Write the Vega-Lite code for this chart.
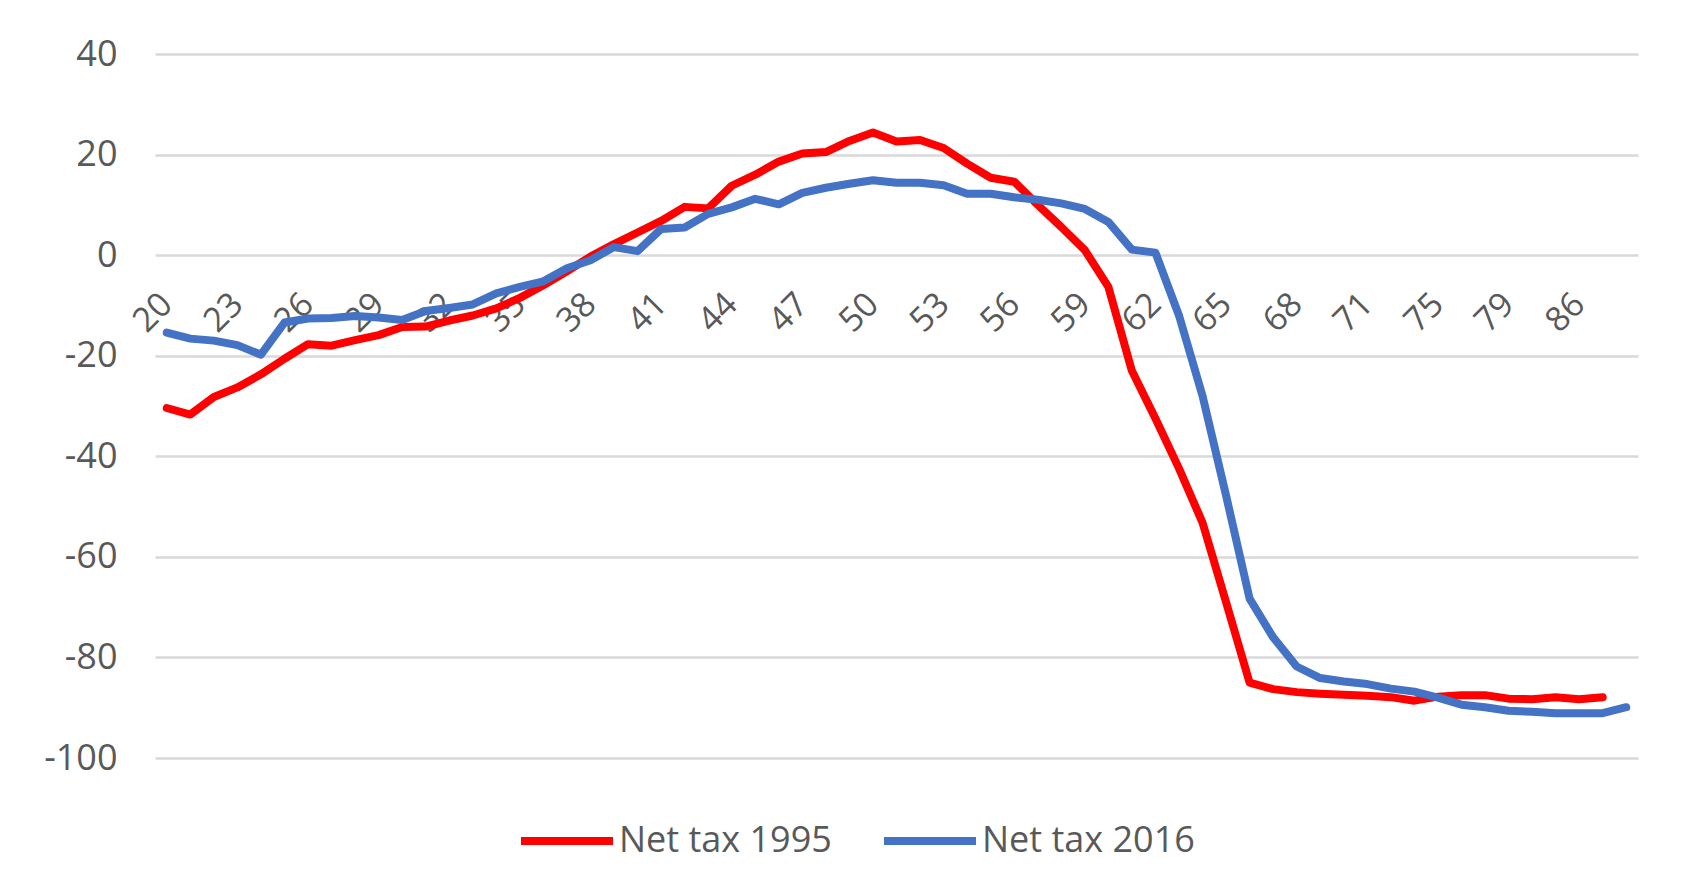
{
  "$schema": "https://vega.github.io/schema/vega-lite/v6.json",
  "width": 1483,
  "height": 704,
  "autosize": {"type": "none"},
  "padding": {"left": 155, "top": 54, "right": 61, "bottom": 136},
  "background": "white",
  "config": {
    "view": {"stroke": null},
    "font": "Open Sans",
    "axis": {"labelFont": "Open Sans", "labelColor": "#595959", "labelFontSize": 34, "grid": false, "domain": false, "ticks": false}
  },
  "datasets": {
    "netTax": [
      {"age": 20, "series": "Net tax 1995", "value": -30.4},
      {"age": 21, "series": "Net tax 1995", "value": -31.7},
      {"age": 22, "series": "Net tax 1995", "value": -28.2},
      {"age": 23, "series": "Net tax 1995", "value": -26.3},
      {"age": 24, "series": "Net tax 1995", "value": -23.7},
      {"age": 25, "series": "Net tax 1995", "value": -20.6},
      {"age": 26, "series": "Net tax 1995", "value": -17.7},
      {"age": 27, "series": "Net tax 1995", "value": -18.0},
      {"age": 28, "series": "Net tax 1995", "value": -16.9},
      {"age": 29, "series": "Net tax 1995", "value": -15.9},
      {"age": 30, "series": "Net tax 1995", "value": -14.3},
      {"age": 31, "series": "Net tax 1995", "value": -14.2},
      {"age": 32, "series": "Net tax 1995", "value": -13.0},
      {"age": 33, "series": "Net tax 1995", "value": -12.0},
      {"age": 34, "series": "Net tax 1995", "value": -10.6},
      {"age": 35, "series": "Net tax 1995", "value": -8.5},
      {"age": 36, "series": "Net tax 1995", "value": -6.0},
      {"age": 37, "series": "Net tax 1995", "value": -3.2},
      {"age": 38, "series": "Net tax 1995", "value": -0.3},
      {"age": 39, "series": "Net tax 1995", "value": 2.2},
      {"age": 40, "series": "Net tax 1995", "value": 4.5},
      {"age": 41, "series": "Net tax 1995", "value": 6.8},
      {"age": 42, "series": "Net tax 1995", "value": 9.6},
      {"age": 43, "series": "Net tax 1995", "value": 9.3},
      {"age": 44, "series": "Net tax 1995", "value": 13.8},
      {"age": 45, "series": "Net tax 1995", "value": 16.0},
      {"age": 46, "series": "Net tax 1995", "value": 18.6},
      {"age": 47, "series": "Net tax 1995", "value": 20.2},
      {"age": 48, "series": "Net tax 1995", "value": 20.5},
      {"age": 49, "series": "Net tax 1995", "value": 22.7},
      {"age": 50, "series": "Net tax 1995", "value": 24.4},
      {"age": 51, "series": "Net tax 1995", "value": 22.6},
      {"age": 52, "series": "Net tax 1995", "value": 22.9},
      {"age": 53, "series": "Net tax 1995", "value": 21.3},
      {"age": 54, "series": "Net tax 1995", "value": 18.2},
      {"age": 55, "series": "Net tax 1995", "value": 15.4},
      {"age": 56, "series": "Net tax 1995", "value": 14.6},
      {"age": 57, "series": "Net tax 1995", "value": 10.0},
      {"age": 58, "series": "Net tax 1995", "value": 5.6},
      {"age": 59, "series": "Net tax 1995", "value": 1.0},
      {"age": 60, "series": "Net tax 1995", "value": -6.3},
      {"age": 61, "series": "Net tax 1995", "value": -23.0},
      {"age": 62, "series": "Net tax 1995", "value": -32.5},
      {"age": 63, "series": "Net tax 1995", "value": -42.4},
      {"age": 64, "series": "Net tax 1995", "value": -53.2},
      {"age": 65, "series": "Net tax 1995", "value": -69.0},
      {"age": 66, "series": "Net tax 1995", "value": -85.0},
      {"age": 67, "series": "Net tax 1995", "value": -86.3},
      {"age": 68, "series": "Net tax 1995", "value": -86.9},
      {"age": 69, "series": "Net tax 1995", "value": -87.2},
      {"age": 70, "series": "Net tax 1995", "value": -87.4},
      {"age": 71, "series": "Net tax 1995", "value": -87.6},
      {"age": 72, "series": "Net tax 1995", "value": -87.9},
      {"age": 73, "series": "Net tax 1995", "value": -88.6},
      {"age": 75, "series": "Net tax 1995", "value": -87.8},
      {"age": 76, "series": "Net tax 1995", "value": -87.5},
      {"age": 77, "series": "Net tax 1995", "value": -87.5},
      {"age": 79, "series": "Net tax 1995", "value": -88.2},
      {"age": 80, "series": "Net tax 1995", "value": -88.3},
      {"age": 82, "series": "Net tax 1995", "value": -87.9},
      {"age": 86, "series": "Net tax 1995", "value": -88.3},
      {"age": 88, "series": "Net tax 1995", "value": -87.9},
      {"age": 20, "series": "Net tax 2016", "value": -15.4},
      {"age": 21, "series": "Net tax 2016", "value": -16.6},
      {"age": 22, "series": "Net tax 2016", "value": -17.0},
      {"age": 23, "series": "Net tax 2016", "value": -17.9},
      {"age": 24, "series": "Net tax 2016", "value": -19.8},
      {"age": 25, "series": "Net tax 2016", "value": -13.4},
      {"age": 26, "series": "Net tax 2016", "value": -12.6},
      {"age": 27, "series": "Net tax 2016", "value": -12.5},
      {"age": 28, "series": "Net tax 2016", "value": -12.1},
      {"age": 29, "series": "Net tax 2016", "value": -12.4},
      {"age": 30, "series": "Net tax 2016", "value": -12.9},
      {"age": 31, "series": "Net tax 2016", "value": -11.1},
      {"age": 32, "series": "Net tax 2016", "value": -10.5},
      {"age": 33, "series": "Net tax 2016", "value": -9.8},
      {"age": 34, "series": "Net tax 2016", "value": -7.6},
      {"age": 35, "series": "Net tax 2016", "value": -6.3},
      {"age": 36, "series": "Net tax 2016", "value": -5.2},
      {"age": 37, "series": "Net tax 2016", "value": -2.6},
      {"age": 38, "series": "Net tax 2016", "value": -1.0},
      {"age": 39, "series": "Net tax 2016", "value": 1.6},
      {"age": 40, "series": "Net tax 2016", "value": 0.8},
      {"age": 41, "series": "Net tax 2016", "value": 5.2},
      {"age": 42, "series": "Net tax 2016", "value": 5.5},
      {"age": 43, "series": "Net tax 2016", "value": 8.2},
      {"age": 44, "series": "Net tax 2016", "value": 9.5},
      {"age": 45, "series": "Net tax 2016", "value": 11.2},
      {"age": 46, "series": "Net tax 2016", "value": 10.1},
      {"age": 47, "series": "Net tax 2016", "value": 12.4},
      {"age": 48, "series": "Net tax 2016", "value": 13.4},
      {"age": 49, "series": "Net tax 2016", "value": 14.2},
      {"age": 50, "series": "Net tax 2016", "value": 14.9},
      {"age": 51, "series": "Net tax 2016", "value": 14.4},
      {"age": 52, "series": "Net tax 2016", "value": 14.4},
      {"age": 53, "series": "Net tax 2016", "value": 13.9},
      {"age": 54, "series": "Net tax 2016", "value": 12.2},
      {"age": 55, "series": "Net tax 2016", "value": 12.2},
      {"age": 56, "series": "Net tax 2016", "value": 11.5},
      {"age": 57, "series": "Net tax 2016", "value": 11.0},
      {"age": 58, "series": "Net tax 2016", "value": 10.3},
      {"age": 59, "series": "Net tax 2016", "value": 9.2},
      {"age": 60, "series": "Net tax 2016", "value": 6.6},
      {"age": 61, "series": "Net tax 2016", "value": 1.1},
      {"age": 62, "series": "Net tax 2016", "value": 0.5},
      {"age": 63, "series": "Net tax 2016", "value": -12.0},
      {"age": 64, "series": "Net tax 2016", "value": -28.0},
      {"age": 65, "series": "Net tax 2016", "value": -47.8},
      {"age": 66, "series": "Net tax 2016", "value": -68.3},
      {"age": 67, "series": "Net tax 2016", "value": -76.0},
      {"age": 68, "series": "Net tax 2016", "value": -81.8},
      {"age": 69, "series": "Net tax 2016", "value": -84.1},
      {"age": 70, "series": "Net tax 2016", "value": -84.8},
      {"age": 71, "series": "Net tax 2016", "value": -85.3},
      {"age": 72, "series": "Net tax 2016", "value": -86.2},
      {"age": 73, "series": "Net tax 2016", "value": -86.8},
      {"age": 75, "series": "Net tax 2016", "value": -88.0},
      {"age": 76, "series": "Net tax 2016", "value": -89.4},
      {"age": 77, "series": "Net tax 2016", "value": -89.9},
      {"age": 79, "series": "Net tax 2016", "value": -90.6},
      {"age": 80, "series": "Net tax 2016", "value": -90.8},
      {"age": 82, "series": "Net tax 2016", "value": -91.1},
      {"age": 86, "series": "Net tax 2016", "value": -91.1},
      {"age": 88, "series": "Net tax 2016", "value": -91.1},
      {"age": 90, "series": "Net tax 2016", "value": -89.9}
    ]
  },
  "data": {"name": "netTax"},
  "mark": {"type": "line", "strokeWidth": 8, "strokeCap": "round", "strokeJoin": "round"},
  "encoding": {
    "x": {
      "field": "age",
      "type": "ordinal",
      "scale": {"type": "point", "padding": 0.5},
      "axis": {
        "title": null,
        "values": [20, 23, 26, 29, 32, 35, 38, 41, 44, 47, 50, 53, 56, 59, 62, 65, 68, 71, 75, 79, 86],
        "labelAngle": -45,
        "labelAlign": "right",
        "labelBaseline": "middle",
        "labelPadding": 0,
        "tickSize": 0,
        "offset": -459,
        "labelFontSize": 34
      }
    },
    "y": {
      "field": "value",
      "type": "quantitative",
      "scale": {"domain": [-100, 40], "nice": false, "zero": false},
      "axis": {
        "title": null,
        "values": [-100, -80, -60, -40, -20, 0, 20, 40],
        "labelExpr": "'' + datum.value",
        "grid": true,
        "gridColor": "#D9D9D9",
        "gridWidth": 2.5,
        "labelPadding": 38,
        "tickSize": 0,
        "labelFontSize": 36
      }
    },
    "color": {
      "field": "series",
      "type": "nominal",
      "scale": {"domain": ["Net tax 1995", "Net tax 2016"], "range": ["#FF0000", "#4472C4"]},
      "legend": {
        "title": null,
        "orient": "none",
        "direction": "horizontal",
        "legendX": 362,
        "legendY": 737,
        "symbolType": "stroke",
        "symbolSize": 8464,
        "symbolStrokeWidth": 8,
        "labelFont": "Open Sans",
        "labelFontSize": 36,
        "labelColor": "#595959",
        "labelLimit": 1000,
        "labelOffset": 2,
        "columnPadding": 36,
        "padding": 0
      }
    }
  }
}
